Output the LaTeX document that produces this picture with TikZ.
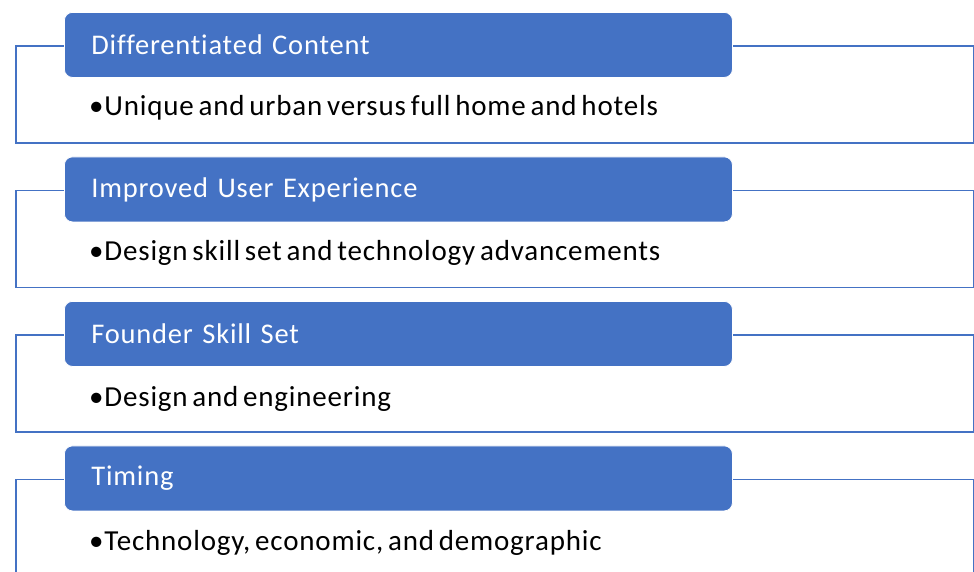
\documentclass[tikz,border=0pt]{standalone}
\usepackage{fontspec}
\setmainfont{Carlito}[Ligatures=NoCommon,LetterSpace=2.8,WordSpace=0.65]
\usetikzlibrary{positioning}

\definecolor{officeblue}{HTML}{4472C4}

\tikzset{
  outerbox/.style={draw=officeblue,line width=1.8pt,fill=white,minimum width=958pt,minimum height=97pt,anchor=north west,inner sep=0pt},
  headbox/.style={fill=officeblue,draw=white,line width=0.8pt,rounded corners=8pt,minimum height=65pt,text width=614pt,align=left,inner xsep=27pt,anchor=north west,text=white,font=\fontsize{28.5}{32}\selectfont},
  itemtext/.style={anchor=west,inner sep=0pt,font=\fontsize{29}{32}\selectfont}
}

\begin{document}
\begin{tikzpicture}[x=1pt,y=-1pt]
\useasboundingbox (0,0) rectangle (974,571);
% frames behind the titles
\node[outerbox] (frameA) at (15,45) {};
\node[outerbox] (frameB) at (15,189.5) {};
\node[outerbox] (frameC) at (15,334) {};
\node[outerbox] (frameD) at (15,478.5) {};
% titles
\node[headbox] (headA) at (64,12) {Differentiated Content};
\node[headbox] (headB) at (64,156.5) {Improved User Experience};
\node[headbox] (headC) at (64,301) {Founder Skill Set};
\node[headbox] (headD) at (64,445.5) {Timing};
% points
\node[itemtext] (itemA) at (89,108) {\textbullet Unique and urban versus full home and hotels};
\node[itemtext] (itemB) at (89,253) {\textbullet Design skill set and technology advancements};
\node[itemtext] (itemC) at (89,399) {\textbullet Design and engineering};
\node[itemtext] (itemD) at (89,543) {\textbullet Technology, economic, and demographic};
\end{tikzpicture}
\end{document}
